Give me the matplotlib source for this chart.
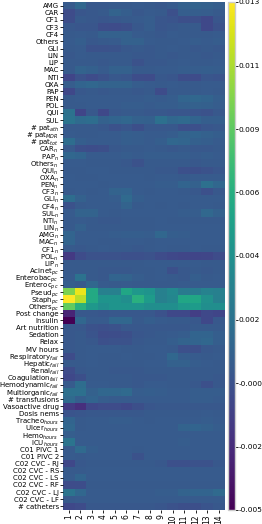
import numpy as np
import matplotlib
matplotlib.use("Agg")
import matplotlib.pyplot as plt
from matplotlib.ticker import FormatStrFormatter

row_labels = [
    "AMG", "CAR", "CF1", "CF3", "CF4", "Others", "GLI", "LIN", "LIP", "MAC", "NTI",
    "OXA", "PAP", "PEN", "POL", "QUI", "SUL",
    "# pat$_{ath}$", "# pat$_{MDR}$", "# pat$_{tot}$",
    "CAR$_{n}$", "PAP$_{n}$", "Others$_{n}$", "QUI$_{n}$", "OXA$_{n}$", "PEN$_{n}$",
    "CF3$_{n}$", "GLI$_{n}$", "CF4$_{n}$", "SUL$_{n}$", "NTI$_{n}$", "LIN$_{n}$",
    "AMG$_{n}$", "MAC$_{n}$", "CF1$_{n}$", "POL$_{n}$", "LIP$_{n}$",
    "Acinet$_{pc}$", "Enterobac$_{pc}$", "Enteroc$_{pc}$", "Pseud$_{pc}$",
    "Staph$_{pc}$", "Others$_{pc}$",
    "Post change", "Insulin", "Art nutrition", "Sedation", "Relax", "MV hours",
    "Respiratory$_{fail}$", "Hepatic$_{fail}$", "Renal$_{fail}$",
    "Coagulation$_{fail}$", "Hemodynamic$_{fail}$", "Multiorganic$_{fail}$",
    "# transfusions", "Vasoactive drug", "Dosis nems",
    "Tracheo$_{hours}$", "Ulcer$_{hours}$", "Hemo$_{hours}$", "ICU$_{hours}$",
    "C01 PIVC 1", "C01 PIVC 2", "C02 CVC - RJ", "C02 CVC - RS", "C02 CVC - LS",
    "C02 CVC - RF", "C02 CVC - LJ", "C02 CVC - LF", "# catheters",
]
col_labels = [str(i) for i in range(1, 15)]

values = [
    [0.0003, 0.0012, 0.0002, 0.0002, 0.0003, 0.0003, 0.0004, 0.0003, 0.0002, 0.0004, 0.0008, 0.0009, 0.0008, 0.0006],
    [-0.0006, 0.0001, 0.0002, 0.0003, 0.0009, 0.0006, 0.0002, 0.0004, 0.0003, -0.0003, 0.0006, 0.0006, 0.0005, 0.0003],
    [-0.0005, 0.0003, 0.0002, 0.0001, 0.0002, 0.0003, 0.0004, 0.0005, 0.0001, 0.0000, -0.0004, -0.0004, -0.0008, 0.0001],
    [0.0002, 0.0001, 0.0001, -0.0005, -0.0006, -0.0004, 0.0002, 0.0005, 0.0001, 0.0002, 0.0003, 0.0003, -0.0008, -0.0002],
    [0.0003, 0.0004, 0.0003, 0.0008, 0.0008, 0.0008, 0.0004, 0.0003, 0.0002, 0.0004, 0.0003, 0.0003, 0.0003, 0.0004],
    [0.0004, 0.0006, 0.0002, 0.0003, 0.0004, 0.0008, 0.0008, 0.0004, 0.0003, 0.0003, 0.0004, 0.0005, 0.0004, 0.0005],
    [0.0003, 0.0004, -0.0002, -0.0002, -0.0001, 0.0002, 0.0003, 0.0002, 0.0003, 0.0004, 0.0003, 0.0002, 0.0003, 0.0002],
    [0.0002, 0.0004, 0.0003, 0.0003, 0.0003, 0.0003, 0.0002, 0.0002, 0.0003, 0.0002, 0.0003, 0.0003, 0.0002, 0.0003],
    [0.0003, 0.0003, 0.0003, 0.0002, 0.0003, 0.0003, -0.0002, 0.0002, 0.0002, 0.0003, 0.0004, 0.0003, 0.0003, 0.0004],
    [0.0003, 0.0009, 0.0007, 0.0004, 0.0008, 0.0008, 0.0003, 0.0003, 0.0004, 0.0004, 0.0005, 0.0005, 0.0006, 0.0005],
    [-0.0010, -0.0002, -0.0006, -0.0002, 0.0002, 0.0001, -0.0005, -0.0006, 0.0002, 0.0001, -0.0005, -0.0006, 0.0001, 0.0000],
    [0.0005, 0.0010, 0.0012, 0.0009, 0.0009, 0.0009, 0.0005, 0.0004, 0.0003, 0.0004, 0.0003, 0.0003, 0.0004, 0.0004],
    [-0.0008, 0.0002, 0.0003, 0.0002, 0.0003, 0.0003, 0.0002, 0.0003, -0.0006, 0.0003, 0.0003, 0.0003, 0.0004, 0.0003],
    [0.0003, 0.0004, 0.0004, 0.0004, 0.0004, 0.0004, 0.0004, 0.0005, 0.0004, 0.0005, 0.0011, 0.0012, 0.0010, 0.0006],
    [0.0003, 0.0003, 0.0004, 0.0004, 0.0004, 0.0005, 0.0005, 0.0004, 0.0005, 0.0005, 0.0007, 0.0008, 0.0007, 0.0005],
    [0.0020, -0.0010, 0.0002, -0.0008, 0.0002, 0.0003, 0.0003, 0.0002, 0.0002, 0.0001, 0.0001, 0.0000, -0.0002, 0.0002],
    [0.0022, 0.0015, 0.0016, 0.0008, 0.0010, 0.0012, 0.0008, 0.0007, 0.0018, 0.0012, 0.0014, 0.0010, 0.0006, 0.0006],
    [0.0003, 0.0003, 0.0003, 0.0002, -0.0002, 0.0001, -0.0004, 0.0002, 0.0002, 0.0002, -0.0003, -0.0003, 0.0001, 0.0002],
    [0.0004, 0.0003, 0.0003, 0.0004, 0.0004, 0.0006, 0.0005, 0.0004, 0.0004, 0.0005, 0.0009, 0.0010, 0.0008, 0.0006],
    [0.0016, 0.0006, 0.0004, 0.0004, 0.0004, 0.0006, 0.0005, 0.0004, 0.0006, 0.0012, 0.0011, 0.0007, 0.0006, 0.0004],
    [0.0003, -0.0004, -0.0005, -0.0004, 0.0002, 0.0003, 0.0003, 0.0004, 0.0003, 0.0002, 0.0003, 0.0002, 0.0002, 0.0003],
    [0.0012, 0.0010, 0.0004, 0.0004, 0.0004, 0.0005, 0.0004, 0.0005, 0.0005, 0.0005, 0.0005, 0.0004, 0.0005, 0.0004],
    [0.0004, 0.0004, 0.0003, 0.0003, 0.0003, 0.0002, -0.0002, 0.0003, 0.0003, 0.0003, 0.0003, 0.0002, 0.0003, 0.0003],
    [0.0003, 0.0003, 0.0004, 0.0004, 0.0003, 0.0003, 0.0003, 0.0003, 0.0002, 0.0002, -0.0003, -0.0004, -0.0002, 0.0001],
    [0.0004, 0.0003, 0.0003, 0.0004, 0.0004, 0.0004, 0.0004, 0.0003, 0.0004, 0.0004, 0.0003, 0.0004, 0.0004, 0.0004],
    [0.0004, 0.0004, 0.0004, 0.0003, 0.0004, 0.0004, 0.0004, 0.0004, 0.0005, 0.0005, 0.0010, 0.0008, 0.0018, 0.0012],
    [0.0003, 0.0004, 0.0003, 0.0004, 0.0009, 0.0010, 0.0004, 0.0003, 0.0004, 0.0004, 0.0003, 0.0002, -0.0003, 0.0002],
    [0.0016, 0.0008, 0.0004, 0.0004, 0.0005, 0.0014, 0.0006, 0.0004, 0.0004, 0.0004, 0.0004, 0.0004, 0.0004, 0.0004],
    [-0.0002, 0.0003, 0.0004, 0.0004, 0.0004, 0.0009, 0.0003, 0.0004, 0.0003, 0.0004, 0.0003, 0.0004, 0.0004, 0.0003],
    [0.0004, 0.0009, 0.0009, 0.0004, 0.0003, 0.0004, 0.0004, 0.0004, 0.0004, 0.0004, 0.0005, 0.0005, 0.0013, 0.0008],
    [0.0003, 0.0004, 0.0003, 0.0002, 0.0002, 0.0003, 0.0003, 0.0003, 0.0004, 0.0003, 0.0003, 0.0003, 0.0003, 0.0003],
    [0.0003, 0.0008, 0.0003, 0.0003, 0.0003, 0.0003, 0.0003, 0.0003, 0.0004, 0.0004, 0.0004, 0.0004, 0.0004, 0.0004],
    [0.0010, 0.0004, 0.0004, 0.0004, 0.0005, 0.0006, 0.0006, 0.0005, 0.0012, 0.0006, 0.0005, 0.0004, 0.0004, 0.0004],
    [0.0010, 0.0004, 0.0004, 0.0003, 0.0003, 0.0004, 0.0004, 0.0003, 0.0004, 0.0004, 0.0004, 0.0004, 0.0004, 0.0004],
    [0.0003, 0.0002, 0.0003, 0.0004, 0.0003, 0.0003, 0.0002, 0.0003, 0.0004, 0.0003, 0.0003, 0.0004, 0.0003, 0.0003],
    [-0.0016, -0.0006, -0.0002, -0.0002, -0.0002, -0.0003, -0.0003, -0.0002, -0.0006, -0.0008, -0.0009, -0.0010, -0.0009, -0.0006],
    [0.0003, 0.0003, 0.0003, 0.0003, 0.0003, 0.0003, 0.0003, 0.0004, 0.0004, 0.0004, 0.0004, 0.0004, 0.0003, 0.0003],
    [0.0003, 0.0003, 0.0003, 0.0002, 0.0002, 0.0002, 0.0003, 0.0003, 0.0004, -0.0003, 0.0002, 0.0003, 0.0002, 0.0003],
    [0.0004, 0.0020, 0.0003, 0.0002, 0.0010, 0.0009, 0.0005, 0.0003, 0.0004, 0.0003, 0.0002, 0.0006, 0.0003, 0.0004],
    [0.0006, 0.0003, 0.0012, 0.0004, 0.0003, 0.0004, 0.0003, 0.0003, 0.0003, 0.0003, 0.0004, 0.0004, 0.0004, 0.0004],
    [0.0095, 0.0125, 0.0060, 0.0030, 0.0030, 0.0058, 0.0048, 0.0045, 0.0030, 0.0036, 0.0026, 0.0026, 0.0032, 0.0030],
    [0.0130, 0.0112, 0.0060, 0.0045, 0.0045, 0.0040, 0.0066, 0.0050, 0.0030, 0.0035, 0.0058, 0.0058, 0.0042, 0.0030],
    [0.0088, 0.0066, 0.0048, 0.0040, 0.0045, 0.0045, 0.0045, 0.0040, 0.0040, 0.0040, 0.0048, 0.0050, 0.0040, 0.0040],
    [-0.0028, 0.0002, 0.0002, 0.0001, 0.0002, 0.0002, 0.0002, 0.0002, -0.0002, -0.0008, -0.0008, -0.0014, -0.0008, -0.0010],
    [-0.0046, 0.0012, 0.0004, 0.0004, 0.0012, 0.0012, 0.0003, 0.0006, 0.0004, 0.0003, 0.0003, 0.0002, -0.0008, 0.0002],
    [0.0002, 0.0002, -0.0002, -0.0003, -0.0002, 0.0002, 0.0002, 0.0002, 0.0002, 0.0002, 0.0002, 0.0003, 0.0003, 0.0003],
    [0.0002, 0.0003, 0.0000, -0.0006, -0.0005, -0.0004, 0.0001, 0.0002, 0.0003, 0.0004, 0.0005, 0.0010, 0.0010, 0.0006],
    [0.0002, 0.0003, 0.0002, -0.0003, -0.0002, -0.0002, 0.0002, 0.0003, 0.0003, 0.0006, 0.0009, 0.0010, 0.0012, 0.0006],
    [0.0002, 0.0003, 0.0004, 0.0004, 0.0004, 0.0003, 0.0003, 0.0004, 0.0004, 0.0003, -0.0003, -0.0004, 0.0002, 0.0003],
    [-0.0006, 0.0003, 0.0004, 0.0003, 0.0003, 0.0004, 0.0003, 0.0003, 0.0004, 0.0012, 0.0005, 0.0004, 0.0003, 0.0004],
    [0.0003, 0.0003, 0.0004, 0.0003, 0.0003, 0.0003, 0.0003, 0.0004, 0.0004, 0.0008, 0.0008, 0.0005, 0.0004, 0.0003],
    [-0.0006, 0.0002, 0.0003, 0.0003, 0.0002, 0.0002, 0.0002, 0.0003, 0.0003, 0.0003, 0.0003, 0.0003, 0.0003, 0.0003],
    [-0.0008, -0.0004, 0.0003, 0.0003, 0.0003, 0.0003, 0.0002, 0.0002, 0.0002, 0.0003, 0.0003, 0.0003, 0.0003, 0.0002],
    [0.0004, 0.0016, 0.0004, 0.0004, 0.0003, 0.0003, 0.0002, 0.0004, 0.0004, 0.0003, 0.0003, 0.0002, -0.0003, 0.0002],
    [0.0018, 0.0018, 0.0008, 0.0012, 0.0012, 0.0014, 0.0005, 0.0006, 0.0005, 0.0004, 0.0004, 0.0005, 0.0005, 0.0005],
    [0.0014, 0.0006, 0.0010, 0.0005, 0.0004, 0.0004, 0.0004, 0.0004, 0.0004, 0.0004, 0.0004, 0.0005, 0.0005, 0.0004],
    [-0.0016, -0.0022, -0.0008, -0.0006, -0.0006, -0.0008, -0.0004, 0.0001, 0.0002, 0.0002, 0.0002, 0.0002, 0.0002, 0.0002],
    [0.0000, 0.0001, 0.0002, 0.0002, 0.0002, 0.0002, 0.0002, 0.0003, 0.0003, 0.0003, 0.0003, 0.0003, 0.0004, 0.0003],
    [0.0010, 0.0003, 0.0004, 0.0004, 0.0005, 0.0005, 0.0004, 0.0003, 0.0004, 0.0004, 0.0004, 0.0004, 0.0005, 0.0004],
    [0.0012, 0.0003, 0.0004, 0.0004, 0.0004, 0.0004, 0.0004, 0.0004, 0.0004, 0.0004, 0.0009, 0.0010, 0.0008, 0.0005],
    [0.0006, 0.0004, 0.0004, 0.0004, 0.0004, 0.0004, 0.0004, 0.0004, 0.0004, 0.0004, 0.0004, 0.0004, 0.0004, 0.0004],
    [0.0022, 0.0004, 0.0004, 0.0004, 0.0004, 0.0004, 0.0004, 0.0004, 0.0004, 0.0004, 0.0005, 0.0004, 0.0004, 0.0004],
    [0.0004, 0.0014, 0.0006, 0.0004, 0.0004, 0.0004, 0.0003, 0.0004, 0.0004, 0.0004, 0.0004, 0.0004, 0.0004, 0.0004],
    [0.0004, 0.0003, 0.0004, 0.0004, 0.0004, 0.0004, -0.0002, 0.0004, 0.0004, 0.0004, 0.0004, 0.0004, 0.0004, 0.0004],
    [-0.0008, 0.0002, 0.0003, 0.0003, 0.0003, 0.0003, 0.0003, 0.0003, 0.0002, -0.0003, -0.0003, -0.0002, -0.0002, 0.0002],
    [0.0003, 0.0003, 0.0004, 0.0004, 0.0004, 0.0004, 0.0004, 0.0004, 0.0004, 0.0004, 0.0004, 0.0004, 0.0004, 0.0004],
    [0.0004, 0.0010, 0.0004, 0.0004, 0.0004, 0.0004, 0.0004, 0.0004, 0.0004, 0.0004, 0.0004, 0.0004, 0.0004, 0.0004],
    [-0.0006, -0.0005, 0.0003, 0.0003, 0.0003, 0.0003, 0.0003, 0.0003, 0.0003, 0.0003, 0.0003, 0.0003, 0.0003, 0.0003],
    [0.0022, 0.0012, 0.0004, 0.0004, 0.0004, 0.0004, 0.0004, 0.0004, 0.0005, 0.0005, 0.0009, 0.0010, 0.0010, 0.0014],
    [0.0003, 0.0004, 0.0004, 0.0004, 0.0004, 0.0004, 0.0004, 0.0004, 0.0004, 0.0004, 0.0004, 0.0004, 0.0004, 0.0004],
    [-0.0008, -0.0006, 0.0002, 0.0002, 0.0002, 0.0002, 0.0002, 0.0002, 0.0001, -0.0002, -0.0004, -0.0004, 0.0000, 0.0002],
]

vmin, vmax = -0.0046, 0.013

data = np.array(values)
fig = plt.figure(figsize=(2.62, 5.24), dpi=100)
ax = fig.add_axes([63 / 262, 1 - 510 / 524, 161.5 / 262, 508 / 524])
mesh = ax.pcolormesh(data, cmap="viridis", vmin=vmin, vmax=vmax,
                     antialiased=True, linewidth=0)
ax.set_xlim(0, data.shape[1])
ax.set_ylim(data.shape[0], 0)
ax.set_xticks(np.arange(data.shape[1]) + 0.5)
ax.set_xticklabels(col_labels, rotation=90, fontsize=5.5)
ax.set_yticks(np.arange(data.shape[0]) + 0.5)
ax.set_yticklabels(row_labels, fontsize=5.0)
ax.tick_params(length=2, width=0.6, pad=1)
for s in ax.spines.values():
    s.set_visible(False)

cax = fig.add_axes([228 / 262, 1 - 510 / 524, 7 / 262, 508 / 524])
cb = fig.colorbar(mesh, cax=cax, ticks=np.linspace(vmin, vmax, 9))
cb.ax.yaxis.set_major_formatter(FormatStrFormatter("%.3f"))
cb.ax.tick_params(labelsize=5.3, length=2, width=0.6, pad=0.8)
cb.outline.set_edgecolor("0.8")
cb.outline.set_linewidth(1)

fig.savefig("out.png", dpi=100)
